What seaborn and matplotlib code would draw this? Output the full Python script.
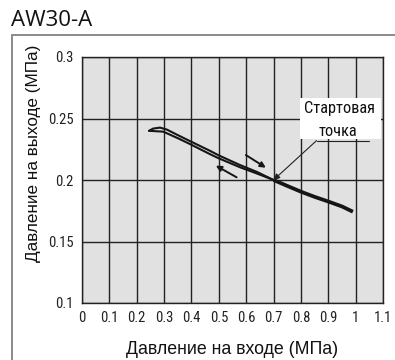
import matplotlib
matplotlib.use("Agg")
import matplotlib.pyplot as plt
from matplotlib import font_manager
import seaborn as sns
import pandas as pd

# Outlet pressure vs inlet pressure, AW30-A
up_x = [0.245, 0.26, 0.285, 0.31, 0.35, 0.394, 0.467, 0.5, 0.577, 0.64, 0.7]
up_y = [0.2400, 0.2418, 0.2426, 0.2410, 0.2365, 0.2317, 0.2238, 0.2200, 0.2122, 0.2065, 0.2000]
down_x = [0.245, 0.297, 0.35, 0.394, 0.467, 0.5, 0.577, 0.64, 0.7]
down_y = [0.2400, 0.2393, 0.2340, 0.2293, 0.2211, 0.2176, 0.2104, 0.2052, 0.2000]
main_x = [0.7, 0.75, 0.8, 0.85, 0.9, 0.95, 0.99]
main_y = [0.2000, 0.1952, 0.1905, 0.1863, 0.1825, 0.1785, 0.1742]

x_ticks = [0, 0.1, 0.2, 0.3, 0.4, 0.5, 0.6, 0.7, 0.8, 0.9, 1.0, 1.1]
x_tick_labels = ["0", "0.1", "0.2", "0.3", "0.4", "0.5", "0.6", "0.7", "0.8", "0.9", "1", "1.1"]
y_ticks = [0.1, 0.15, 0.2, 0.25, 0.3]
y_tick_labels = ["0.1", "0.15", "0.2", "0.25", "0.3"]

start_point = (0.7, 0.2)
title = "AW30-A"
xlabel = "Давление на входе (МПа)"
ylabel = "Давление на выходе (МПа)"
callout_lines = ["Стартовая", "точка"]

sns.set_theme(style="white")

available = {f.name for f in font_manager.fontManager.ttflist}
narrow_font = "Liberation Sans"
for cand in ["Liberation Sans Narrow", "DejaVu Sans Condensed", "Roboto Condensed"]:
    if cand in available:
        narrow_font = cand
        break
label_font = "Liberation Sans"
plt.rcParams["font.family"] = ["Liberation Sans", "DejaVu Sans"]

fig = plt.figure(figsize=(3.95, 3.6), dpi=100)
ax = fig.add_axes([82 / 395, 1 - 303 / 360, (383 - 82) / 395, (303 - 57) / 360])
ax.set_facecolor("#e1e1e1")

line_color = "#151515"
df_up = pd.DataFrame({"x": up_x, "y": up_y})
df_down = pd.DataFrame({"x": down_x, "y": down_y})
df_main = pd.DataFrame({"x": main_x, "y": main_y})
sns.lineplot(data=df_up, x="x", y="y", sort=False, estimator=None, ax=ax,
             color=line_color, lw=1.5, zorder=5)
sns.lineplot(data=df_down, x="x", y="y", sort=False, estimator=None, ax=ax,
             color=line_color, lw=1.5, zorder=5)
sns.lineplot(data=df_main, x="x", y="y", sort=False, estimator=None, ax=ax,
             color=line_color, lw=2.7, zorder=5, solid_capstyle="butt")

ax.set_xlim(0, 1.1)
ax.set_ylim(0.1, 0.3)
ax.set_xticks(x_ticks)
ax.set_xticklabels(x_tick_labels, fontsize=10.5, family=narrow_font, color="#222222")
ax.set_yticks(y_ticks)
ax.set_yticklabels(y_tick_labels, fontsize=10.5, family=narrow_font, color="#222222")
ax.tick_params(axis="both", length=2, width=0.8, color="#333333", pad=4)
ax.grid(True, color="#222222", lw=1.0, zorder=1)
ax.set_axisbelow(True)
for s in ax.spines.values():
    s.set_color("#222222")
    s.set_linewidth(1.0)

ax.set_xlabel(xlabel, fontsize=12.8, family=label_font, color="#111111", labelpad=11)
ax.set_ylabel(ylabel, fontsize=12.3, family=label_font, color="#111111")
ax.yaxis.set_label_coords(-0.135, 0.61)

# direction arrows along the loop
ax.annotate("", xy=(0.672, 0.2100), xytext=(0.599, 0.2203),
            arrowprops=dict(arrowstyle="-|>", color=line_color, lw=1.4,
                            mutation_scale=8, shrinkA=0, shrinkB=0), zorder=6)
ax.annotate("", xy=(0.489, 0.2117), xytext=(0.565, 0.2022),
            arrowprops=dict(arrowstyle="-|>", color=line_color, lw=1.4,
                            mutation_scale=8, shrinkA=0, shrinkB=0), zorder=6)

# start point callout
ax.add_patch(plt.Rectangle((0.796, 0.2335), 0.297, 0.0332, facecolor="white",
                           edgecolor="none", zorder=3))
ax.text(0.942, 0.2545, callout_lines[0], ha="center", va="baseline", fontsize=11.8,
        family=narrow_font, color="#111111", zorder=4)
ax.text(0.935, 0.2360, callout_lines[1], ha="center", va="baseline", fontsize=11.8,
        family=narrow_font, color="#111111", zorder=4)
ax.plot([0.857, 1.05], [0.2320, 0.2320], color="#222222", lw=0.8, zorder=4)
ax.annotate("", xy=start_point, xytext=(0.857, 0.2320),
            arrowprops=dict(arrowstyle="-|>", color="#222222", lw=0.8,
                            mutation_scale=9, shrinkA=0, shrinkB=0), zorder=6)

# title and outer frame
fig.text(11 / 395, 1 - 21 / 360, title, ha="left", va="center", fontsize=16,
         family="Open Sans", color="#111111")
frame_color = "#8a8a8a"
fig.add_artist(plt.Line2D([12 / 395, 1.0], [1 - 35 / 360, 1 - 35 / 360],
                          transform=fig.transFigure, color=frame_color, lw=1.4))
fig.add_artist(plt.Line2D([12 / 395, 12 / 395], [1 - 35 / 360, 0.0],
                          transform=fig.transFigure, color=frame_color, lw=1.4))

fig.savefig("out.png", dpi=100, facecolor="white")
